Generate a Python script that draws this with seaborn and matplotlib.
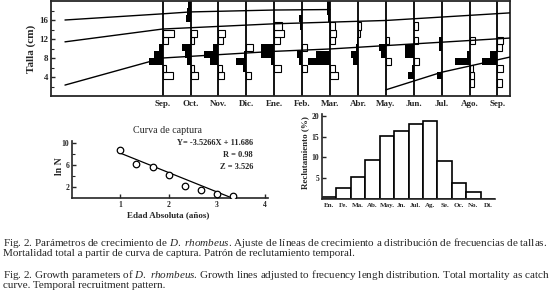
import numpy as np
import seaborn as sns
import matplotlib.pyplot as plt

# --- growth panel: months (Sep = 0) and 1.5 cm length classes
months = ['Sep.', 'Oct.', 'Nov.', 'Dic.', 'Ene.', 'Feb.', 'Mar.', 'Abr.',
          'May.', 'Jun.', 'Jul.', 'Ago.', 'Sep.']
length_mid = [1.25, 2.75, 4.25, 5.75, 7.25, 8.75, 10.25, 11.75,
              13.25, 14.75, 16.25, 17.75, 19.25]
# restructured frequencies: + = peak (black, to the left), - = trough (white, to the right)
freq_scores = [
    [0, 0, -9, -3, 12, 8, 3, -5, -10, 0, 0, 0, 0],     # Sep
    [0, 0, -7, -3, 3, 5, 8, -3, -6, 0, 4, 3, 2],       # Oct
    [0, 0, -5, -3, 8, 13, 5, -4, -6, 0, 0, 0, 0],      # Nov
    [0, 0, -4, 3, 9, 2, -6, 0, 0, 0, 0, 0, 0],         # Dic
    [0, 0, 0, -6, 3, 12, 12, -5, -9, -7, 0, 0, 0],     # Ene
    [0, 0, 0, -4, 3, 5, -4, 0, 0, 2, 3, 0, 0],         # Feb
    [0, 0, -7, -4, 20, 13, 0, -4, -5, -4, 2, 3, 3],    # Mar
    [0, 0, 0, 0, 4, 6, 2, 1, -2, -3, 0, 0, 0],         # Abr
    [0, 0, 0, 0, -5, 4, 6, -3, 0, 0, 0, 0, 0],         # May
    [0, 0, 5, 2, -5, 8, 8, -4, 0, -4, 0, 0, 0],        # Jun
    [0, 0, 4, 0, 0, 0, 2, 2, 0, 0, 0, 0, 0],           # Jul
    [0, -4, -4, -3, 13, 2, 0, -5, 0, 0, 0, 0, 0],      # Ago
    [0, -4, 0, -5, 14, 7, -4, -5, 0, 0, 0, 0, 0],      # Sep
]

# growth curves (month, length cm)
growth1_t = [-3.5, 0, 1, 4, 6]
growth1_l = [16.0, 17.3, 17.7, 18.1, 18.2]
growth2_t = [-3.5, 0, 4, 8, 12.45]
growth2_l = [11.4, 14.1, 15.2, 15.9, 17.5]
growth3_t = [-3.5, 0, 4, 6, 12.45]
growth3_l = [2.3, 8.0, 9.4, 9.9, 12.2]
growth4_t = [8, 10, 12.45]
growth4_l = [1.3, 5.0, 8.2]

# --- catch curve
age = [1.0, 1.33, 1.67, 2.0, 2.33, 2.67, 3.0, 3.33]
ln_n = [8.7, 6.2, 5.7, 4.2, 2.2, 1.5, 0.7, 0.4]
slope, intercept = -3.5266, 11.686

# --- recruitment pattern
rec_months = ['En.', 'Fe.', 'Ma.', 'Ab.', 'May.', 'Jn.', 'Jul.', 'Ag.',
              'Se.', 'Oc.', 'No.', 'Di.']
rec_pct = [0.6, 2.6, 5.3, 9.4, 15.2, 16.4, 18.1, 18.8, 9.2, 3.9, 1.7, 0.1]

sns.set_style("ticks")
plt.rcParams['font.family'] = ['Liberation Serif', 'DejaVu Serif']
plt.rcParams['mathtext.fontset'] = 'custom'
plt.rcParams['mathtext.rm'] = 'Liberation Serif'
plt.rcParams['mathtext.it'] = 'Liberation Serif:italic'
plt.rcParams['mathtext.bf'] = 'Liberation Serif:bold'

fig = plt.figure(figsize=(5.51, 3.08), dpi=100)

# ---------------- top panel
ax1 = fig.add_axes([0.0926, 1 - 96 / 308, 0.833, 95 / 308])
for m in range(len(months)):
    ax1.axvline(m, color='black', lw=1.3, zorder=1)

hist_scale = 25.0
mids = np.array(length_mid)
for m, scores in enumerate(freq_scores):
    s = np.array(scores) / hist_scale
    pk = s > 0
    tr = s < 0
    ax1.barh(mids[pk], -s[pk], left=m, height=1.5, color='black', lw=0, zorder=2)
    ax1.barh(mids[tr], -s[tr], left=m, height=1.5, facecolor='white',
             edgecolor='black', lw=0.8, zorder=2)

for t, l in [(growth1_t, growth1_l), (growth2_t, growth2_l),
             (growth3_t, growth3_l), (growth4_t, growth4_l)]:
    sns.lineplot(x=t, y=l, ax=ax1, color='black', lw=1.0, sort=False,
                 estimator=None, zorder=3)

ax1.set_xlim(-4, 12.45)
ax1.set_ylim(0, 20)
ax1.set_xticks(range(len(months)))
ax1.set_xticklabels(months, fontweight='bold', fontsize=6.5)
ax1.tick_params(axis='x', length=0, pad=3)
ax1.set_yticks([4, 8, 12, 16])
ax1.set_yticklabels(['4', '8', '12', '16'], fontweight='bold', fontsize=6.5)
ax1.set_yticks([2, 6, 10, 14, 18], minor=True)
ax1.tick_params(axis='y', which='both', direction='in', pad=2)
ax1.tick_params(axis='y', which='major', length=3, width=1)
ax1.tick_params(axis='y', which='minor', length=2, width=0.8)
ax1.set_ylabel('Talla (cm)', fontweight='bold', fontsize=8, labelpad=2)
for sp in ax1.spines.values():
    sp.set_linewidth(1.3)

# ---------------- catch curve
ax2 = fig.add_axes([72 / 551, 1 - 198 / 308, 195.6 / 551, 56.65 / 308])
fit_x = np.array([age[0], -intercept / slope])
fit_y = intercept + slope * fit_x
sns.lineplot(x=fit_x, y=fit_y, ax=ax2, color='black', lw=0.9)
sns.scatterplot(x=age, y=ln_n, ax=ax2, marker='o', s=22, color='white',
                edgecolor='black', linewidth=0.9, zorder=3)
ax2.set_xlim(0, 4.05)
ax2.set_ylim(0, 10.3)
ax2.set_xticks([1, 2, 3, 4])
ax2.set_xticklabels(['1', '2', '3', '4'], fontweight='bold', fontsize=5.5)
ax2.set_yticks([2, 6, 10])
ax2.set_yticklabels(['2', '6', '10'], fontweight='bold', fontsize=5.5)
ax2.set_yticks([4, 8], minor=True)
ax2.tick_params(which='both', direction='in', pad=2)
ax2.tick_params(which='major', length=3, width=1)
ax2.tick_params(which='minor', length=2, width=0.8)
sns.despine(ax=ax2)
for sp in ['left', 'bottom']:
    ax2.spines[sp].set_linewidth(1.2)
ax2.text(0.49, 1.2, 'Curva de captura', transform=ax2.transAxes,
         ha='center', va='center', fontsize=7.2)
eq_kw = dict(transform=ax2.transAxes, ha='right', va='center',
             fontsize=6, fontweight='bold')
ax2.text(0.925, 0.97, 'Y= -3.5266X + 11.686', **eq_kw)
ax2.text(0.925, 0.76, 'R = 0.98', **eq_kw)
ax2.text(0.925, 0.55, 'Z = 3.526', **eq_kw)
ax2.text(0.49, -0.3, 'Edad Absoluta (años)', transform=ax2.transAxes,
         ha='center', va='center', fontsize=6.5, fontweight='bold')
ax2.text(-0.065, 0.56, 'ln N', transform=ax2.transAxes, rotation=90,
         ha='center', va='center', fontsize=7, fontweight='bold')

# ---------------- recruitment
ax3 = fig.add_axes([322 / 551, 1 - 199 / 308, 173 / 551, 85.1 / 308])
sns.barplot(x=rec_months, y=rec_pct, ax=ax3, color='white', saturation=1,
            edgecolor='black', linewidth=1.2, width=1.0)
ax3.set_xlim(-0.5, 11.5)
ax3.set_ylim(0, 20.5)
ax3.set_yticks([5, 10, 15, 20])
ax3.set_yticklabels(['5', '10', '15', '20'], fontweight='bold', fontsize=5.5)
ax3.tick_params(axis='y', direction='in', length=3, width=1, pad=2)
ax3.tick_params(axis='x', length=0, pad=3)
for lab in ax3.get_xticklabels():
    lab.set_fontweight('bold')
    lab.set_fontsize(5)
ax3.set_xlabel('')
sns.despine(ax=ax3)
for sp in ['left', 'bottom']:
    ax3.spines[sp].set_linewidth(1.2)
ax3.text(-0.1, 0.55, 'Reclutamiento (%)', transform=ax3.transAxes,
         rotation=90, ha='center', va='center', fontsize=6.5,
         fontweight='bold')

# ---------------- caption
cap_kw = dict(fontsize=8.0, va='center', ha='left')
fig.text(0.006, 1 - 243 / 308,
         'Fig. 2. Parámetros de crecimiento de $\\mathit{D.\\ rhombeus}$. '
         'Ajuste de líneas de crecimiento a distribución de frecuencias de tallas.',
         **cap_kw)
fig.text(0.006, 1 - 254 / 308,
         'Mortalidad total a partir de curva de captura. Patrón de reclutamiento temporal.',
         **cap_kw)
fig.text(0.006, 1 - 275 / 308,
         'Fig. 2. Growth parameters of $\\mathit{D.\\ rhombeus}$. Growth lines adjusted '
         'to frecuency lengh distribution. Total mortality as catch',
         **cap_kw)
fig.text(0.006, 1 - 286 / 308, 'curve. Temporal recruitment pattern.', **cap_kw)

fig.savefig('out.png', dpi=100)
